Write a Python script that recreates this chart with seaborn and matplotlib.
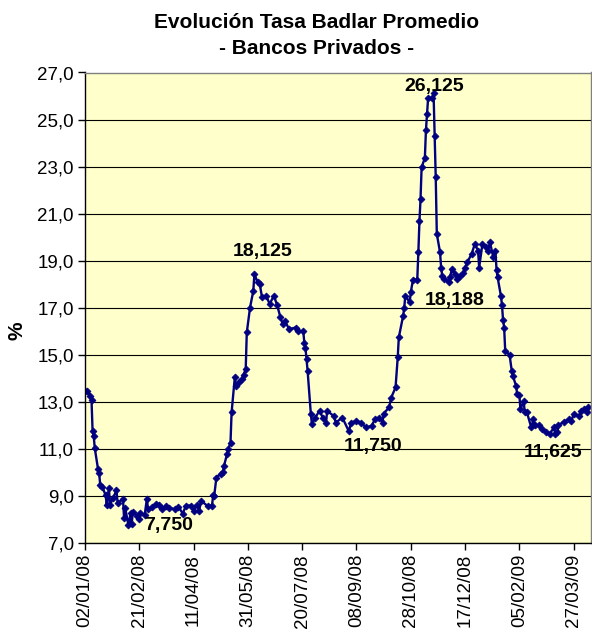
import matplotlib
matplotlib.use("Agg")
import pandas as pd
import seaborn as sns
from matplotlib import pyplot as plt

# Tasa Badlar promedio, bancos privados (%)
fechas = [
    "2008-01-02", "2008-01-04", "2008-01-07", "2008-01-08", "2008-01-09", "2008-01-10",
    "2008-01-11", "2008-01-14", "2008-01-15", "2008-01-16", "2008-01-18", "2008-01-21",
    "2008-01-22", "2008-01-24", "2008-01-25", "2008-01-28", "2008-01-31", "2008-02-01",
    "2008-02-06", "2008-02-07", "2008-02-08", "2008-02-11", "2008-02-13", "2008-02-14",
    "2008-02-15", "2008-02-19", "2008-02-21", "2008-02-22", "2008-02-26", "2008-02-28",
    "2008-02-29", "2008-03-04", "2008-03-07", "2008-03-10", "2008-03-13", "2008-03-17",
    "2008-03-19", "2008-03-25", "2008-03-28", "2008-04-01", "2008-04-04", "2008-04-09",
    "2008-04-11", "2008-04-14", "2008-04-16", "2008-04-18", "2008-04-24", "2008-04-28",
    "2008-04-29", "2008-04-30", "2008-05-02", "2008-05-06", "2008-05-08", "2008-05-09",
    "2008-05-12", "2008-05-13", "2008-05-15", "2008-05-16", "2008-05-19", "2008-05-20",
    "2008-05-23", "2008-05-26", "2008-05-27", "2008-05-29", "2008-05-30", "2008-06-02",
    "2008-06-05", "2008-06-06", "2008-06-09", "2008-06-11", "2008-06-13", "2008-06-17",
    "2008-06-20", "2008-06-24", "2008-06-27", "2008-06-30", "2008-07-02", "2008-07-04",
    "2008-07-08", "2008-07-14", "2008-07-16", "2008-07-21", "2008-07-22", "2008-07-23",
    "2008-07-24", "2008-07-25", "2008-07-28", "2008-07-29", "2008-08-01", "2008-08-05",
    "2008-08-08", "2008-08-11", "2008-08-12", "2008-08-18", "2008-08-20", "2008-08-26",
    "2008-09-01", "2008-09-03", "2008-09-08", "2008-09-12", "2008-09-17", "2008-09-22",
    "2008-09-25", "2008-09-29", "2008-10-02", "2008-10-03", "2008-10-08", "2008-10-10",
    "2008-10-14", "2008-10-16", "2008-10-17", "2008-10-21", "2008-10-22", "2008-10-23",
    "2008-10-27", "2008-10-28", "2008-10-30", "2008-11-03", "2008-11-04", "2008-11-05",
    "2008-11-06", "2008-11-07", "2008-11-10", "2008-11-11", "2008-11-12", "2008-11-13",
    "2008-11-17", "2008-11-18", "2008-11-19", "2008-11-20", "2008-11-21", "2008-11-24",
    "2008-11-25", "2008-11-26", "2008-11-28", "2008-12-02", "2008-12-03", "2008-12-05",
    "2008-12-08", "2008-12-10", "2008-12-12", "2008-12-15", "2008-12-17", "2008-12-19",
    "2008-12-23", "2008-12-26", "2008-12-29", "2008-12-30", "2009-01-02", "2009-01-05",
    "2009-01-07", "2009-01-09", "2009-01-12", "2009-01-14", "2009-01-15", "2009-01-16",
    "2009-01-19", "2009-01-20", "2009-01-21", "2009-01-22", "2009-01-23", "2009-01-27",
    "2009-01-29", "2009-01-30", "2009-02-02", "2009-02-03", "2009-02-05", "2009-02-06",
    "2009-02-09", "2009-02-10", "2009-02-12", "2009-02-16", "2009-02-18", "2009-02-19",
    "2009-02-23", "2009-02-26", "2009-03-02", "2009-03-05", "2009-03-09", "2009-03-10",
    "2009-03-12", "2009-03-13", "2009-03-18", "2009-03-23", "2009-03-25", "2009-03-27",
    "2009-04-01", "2009-04-03", "2009-04-06", "2009-04-08", "2009-04-09",
]
tasas = [
    13.47, 13.45, 13.26, 13.07, 11.74, 11.55,
    11.03, 10.14, 9.99, 9.47, 9.38, 9.03,
    8.62, 9.35, 8.62, 8.93, 9.24, 8.71,
    8.86, 8.05, 8.50, 7.75, 8.29, 7.80,
    8.32, 8.15, 8.04, 8.29, 8.19, 8.89,
    8.43, 8.53, 8.67, 8.61, 8.43, 8.57,
    8.50, 8.43, 8.55, 8.25, 8.59, 8.59,
    8.36, 8.62, 8.36, 8.79, 8.57, 8.59,
    9.03, 9.01, 9.78, 9.95, 10.02, 10.28,
    10.80, 10.99, 11.27, 12.55, 14.06, 13.68,
    13.83, 13.98, 14.15, 14.39, 15.95, 17.01,
    17.72, 18.43, 18.08, 18.00, 17.44, 17.50,
    17.16, 17.51, 17.10, 16.59, 16.31, 16.45,
    16.09, 16.16, 16.02, 16.00, 15.52, 15.31,
    14.82, 14.32, 12.48, 12.05, 12.33, 12.62,
    12.33, 12.12, 12.62, 12.40, 12.12, 12.33,
    11.75, 12.12, 12.19, 12.12, 11.91, 11.98,
    12.26, 12.33, 12.12, 12.50, 12.76, 13.18,
    13.61, 14.89, 15.74, 16.66, 17.01, 17.51,
    17.23, 17.65, 18.18, 18.20, 19.35, 20.67,
    21.62, 22.97, 23.37, 24.56, 25.24, 25.92,
    25.92, 26.125, 24.28, 22.55, 20.14, 19.35,
    18.69, 18.36, 18.22, 18.08, 18.29, 18.65,
    18.43, 18.22, 18.36, 18.46, 18.71, 18.93,
    19.28, 19.71, 19.43, 18.71, 19.71, 19.57,
    19.43, 19.78, 19.14, 19.43, 18.60, 18.29,
    17.51, 17.13, 16.48, 16.16, 15.17, 15.00,
    14.32, 14.11, 13.68, 13.33, 13.30, 12.68,
    13.04, 12.55, 12.55, 11.91, 12.26, 12.00,
    12.00, 11.84, 11.70, 11.65, 11.91, 11.625,
    11.70, 12.00, 12.16, 12.26, 12.19, 12.48,
    12.40, 12.62, 12.69, 12.55, 12.76,
]

x_tick_labels = ["02/01/08", "21/02/08", "11/04/08", "31/05/08", "20/07/08",
                 "08/09/08", "28/10/08", "17/12/08", "05/02/09", "27/03/09"]
y_ticks = [7, 9, 11, 13, 15, 17, 19, 21, 23, 25, 27]

# rotulos: texto, fecha del punto que senalan, desplazamiento (px)
rotulos = ["26,125", "18,125", "18,188", "11,750", "11,625", "7,750"]
rotulo_fechas = ["2008-11-18", "2008-06-06", "2008-12-02", "2008-09-01", "2009-03-10", "2008-02-11"]
rotulo_offsets = [(1, 7), (8, 23), (6, -18), (24, -15), (-2, -18), (40, 0)]

df = pd.DataFrame({"fecha": pd.to_datetime(fechas), "tasa": tasas})

sns.set_style("ticks")
plt.rcParams["font.family"] = ["Liberation Sans", "DejaVu Sans"]
plt.rcParams["text.color"] = "black"
plt.rcParams["xtick.color"] = "black"
plt.rcParams["ytick.color"] = "black"

navy = "#000080"
fig = plt.figure(figsize=(5.92, 6.30), dpi=100)
ax = fig.add_axes([85 / 592, 87 / 630, 506 / 592, 470.5 / 630])
ax.set_facecolor("#FFFFCC")

sns.lineplot(data=df, x="fecha", y="tasa", ax=ax, color=navy, linewidth=1.7,
             marker="D", markersize=3.5, markeredgecolor=navy, markeredgewidth=0.6)

ax.set_ylim(7, 27)
ax.set_yticks(y_ticks)
ax.set_yticklabels([f"{v:.1f}".replace(".", ",") for v in y_ticks], fontsize=13.5)
ax.yaxis.grid(True, color="black", linewidth=0.8)
ax.set_axisbelow(True)

xt = pd.to_datetime(x_tick_labels, format="%d/%m/%y")
ax.set_xlim(pd.Timestamp("2008-01-02"), pd.Timestamp("2008-01-02") + pd.Timedelta(days=466))
ax.set_xticks(xt)
ax.set_xticklabels(x_tick_labels, rotation=90, fontsize=13.5)
ax.tick_params(axis="both", direction="out", length=5, width=1, pad=3)

ax.set_xlabel("")
ax.set_ylabel("")
fig.text(17 / 592, 1 - 331 / 630, "%", rotation=90, ha="center", va="center",
         fontsize=15, fontweight="bold")

for side in ["left", "bottom"]:
    ax.spines[side].set_color("black")
    ax.spines[side].set_linewidth(1)
for side in ["top", "right"]:
    ax.spines[side].set_visible(True)
    ax.spines[side].set_color("#808080")
    ax.spines[side].set_linewidth(1)

for texto, f, (dx, dy) in zip(rotulos, rotulo_fechas, rotulo_offsets):
    fecha = pd.Timestamp(f)
    valor = df.loc[df["fecha"] == fecha, "tasa"].iloc[0]
    ax.annotate(texto, xy=(fecha, valor), xytext=(dx, dy), textcoords="offset pixels",
                ha="center", va="center", fontsize=14, fontweight="bold")

fig.text(317 / 592, 1 - 22 / 630, "Evolución Tasa Badlar Promedio",
         ha="center", va="center", fontsize=15, fontweight="bold")
fig.text(317 / 592, 1 - 48 / 630, "- Bancos Privados -",
         ha="center", va="center", fontsize=15, fontweight="bold")

fig.savefig("out.png", dpi=100, facecolor="white")
plt.close(fig)
